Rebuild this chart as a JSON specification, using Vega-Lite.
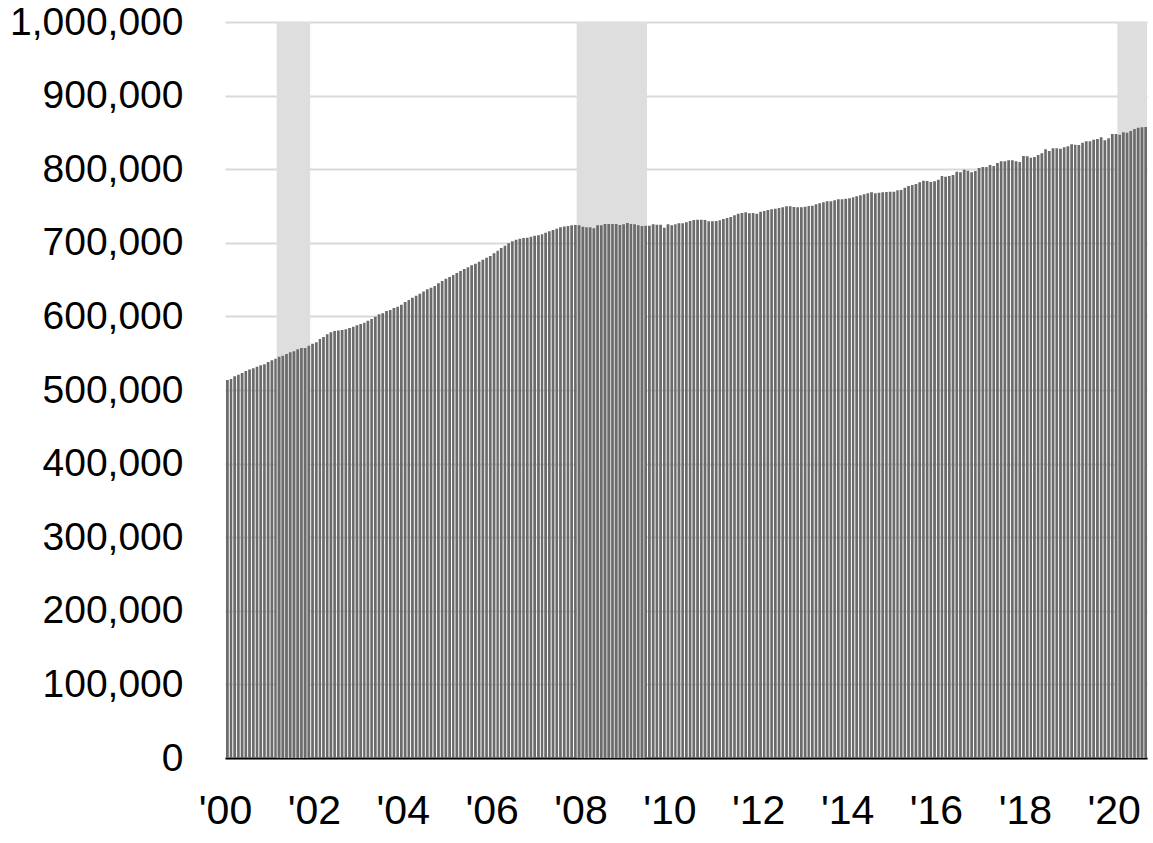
{
"$schema": "https://vega.github.io/schema/vega-lite/v6.json",
"width": 922, "height": 736,
"autosize": {"type": "none"},
"padding": {"left": 225, "top": 22, "right": 6, "bottom": 85},
"background": "white",
"config": {"view": {"stroke": null}, "font": "Liberation Sans, Arial, sans-serif"},
"datasets": {
"rec": [{"start":"2001-03","end":"2001-12"},{"start":"2007-12","end":"2009-07"},{"start":"2020-02","end":"2020-10"}],
"s": [
{"d":"2000-01","v":513600},{"d":"2000-02","v":515000},{"d":"2000-03","v":518600},{"d":"2000-04","v":520800},{"d":"2000-05","v":523000},{"d":"2000-06","v":525800},{"d":"2000-07","v":528000},{"d":"2000-08","v":529400},{"d":"2000-09","v":531700},{"d":"2000-10","v":533500},{"d":"2000-11","v":534900},{"d":"2000-12","v":538000},
{"d":"2001-01","v":540300},{"d":"2001-02","v":542500},{"d":"2001-03","v":545200},{"d":"2001-04","v":546600},{"d":"2001-05","v":548900},{"d":"2001-06","v":551200},{"d":"2001-07","v":552600},{"d":"2001-08","v":555300},{"d":"2001-09","v":557000},{"d":"2001-10","v":557000},{"d":"2001-11","v":560200},{"d":"2001-12","v":562900},
{"d":"2002-01","v":564800},{"d":"2002-02","v":569300},{"d":"2002-03","v":572000},{"d":"2002-04","v":575600},{"d":"2002-05","v":578400},{"d":"2002-06","v":580100},{"d":"2002-07","v":581000},{"d":"2002-08","v":581500},{"d":"2002-09","v":582400},{"d":"2002-10","v":584200},{"d":"2002-11","v":586000},{"d":"2002-12","v":587900},
{"d":"2003-01","v":589700},{"d":"2003-02","v":591400},{"d":"2003-03","v":594200},{"d":"2003-04","v":596500},{"d":"2003-05","v":599600},{"d":"2003-06","v":602800},{"d":"2003-07","v":604200},{"d":"2003-08","v":607300},{"d":"2003-09","v":608700},{"d":"2003-10","v":611400},{"d":"2003-11","v":613200},{"d":"2003-12","v":615900},
{"d":"2004-01","v":619600},{"d":"2004-02","v":622300},{"d":"2004-03","v":625400},{"d":"2004-04","v":628100},{"d":"2004-05","v":630800},{"d":"2004-06","v":634000},{"d":"2004-07","v":636800},{"d":"2004-08","v":639000},{"d":"2004-09","v":641300},{"d":"2004-10","v":644900},{"d":"2004-11","v":648100},{"d":"2004-12","v":651200},
{"d":"2005-01","v":653500},{"d":"2005-02","v":656200},{"d":"2005-03","v":659000},{"d":"2005-04","v":661700},{"d":"2005-05","v":664400},{"d":"2005-06","v":666700},{"d":"2005-07","v":669400},{"d":"2005-08","v":671600},{"d":"2005-09","v":674300},{"d":"2005-10","v":677000},{"d":"2005-11","v":679800},{"d":"2005-12","v":682000},
{"d":"2006-01","v":685700},{"d":"2006-02","v":689300},{"d":"2006-03","v":692900},{"d":"2006-04","v":696100},{"d":"2006-05","v":699300},{"d":"2006-06","v":702000},{"d":"2006-07","v":704200},{"d":"2006-08","v":705600},{"d":"2006-09","v":706500},{"d":"2006-10","v":706900},{"d":"2006-11","v":708300},{"d":"2006-12","v":709700},
{"d":"2007-01","v":710100},{"d":"2007-02","v":711500},{"d":"2007-03","v":713700},{"d":"2007-04","v":715600},{"d":"2007-05","v":717400},{"d":"2007-06","v":719200},{"d":"2007-07","v":721000},{"d":"2007-08","v":722300},{"d":"2007-09","v":722800},{"d":"2007-10","v":723700},{"d":"2007-11","v":724200},{"d":"2007-12","v":723700},
{"d":"2008-01","v":721900},{"d":"2008-02","v":721000},{"d":"2008-03","v":721000},{"d":"2008-04","v":719700},{"d":"2008-05","v":723700},{"d":"2008-06","v":723700},{"d":"2008-07","v":725500},{"d":"2008-08","v":725500},{"d":"2008-09","v":725500},{"d":"2008-10","v":725500},{"d":"2008-11","v":724200},{"d":"2008-12","v":725100},
{"d":"2009-01","v":726900},{"d":"2009-02","v":725500},{"d":"2009-03","v":725100},{"d":"2009-04","v":723700},{"d":"2009-05","v":722800},{"d":"2009-06","v":723300},{"d":"2009-07","v":723300},{"d":"2009-08","v":725100},{"d":"2009-09","v":724600},{"d":"2009-10","v":724600},{"d":"2009-11","v":720600},{"d":"2009-12","v":725100},
{"d":"2010-01","v":723700},{"d":"2010-02","v":725100},{"d":"2010-03","v":726400},{"d":"2010-04","v":726400},{"d":"2010-05","v":727800},{"d":"2010-06","v":729600},{"d":"2010-07","v":731000},{"d":"2010-08","v":731400},{"d":"2010-09","v":731400},{"d":"2010-10","v":731000},{"d":"2010-11","v":729200},{"d":"2010-12","v":729200},
{"d":"2011-01","v":729600},{"d":"2011-02","v":730500},{"d":"2011-03","v":732300},{"d":"2011-04","v":733700},{"d":"2011-05","v":735100},{"d":"2011-06","v":737300},{"d":"2011-07","v":739600},{"d":"2011-08","v":740500},{"d":"2011-09","v":741400},{"d":"2011-10","v":740000},{"d":"2011-11","v":740500},{"d":"2011-12","v":739600},
{"d":"2012-01","v":742300},{"d":"2012-02","v":743200},{"d":"2012-03","v":744600},{"d":"2012-04","v":745500},{"d":"2012-05","v":746400},{"d":"2012-06","v":747300},{"d":"2012-07","v":748200},{"d":"2012-08","v":749500},{"d":"2012-09","v":749500},{"d":"2012-10","v":748600},{"d":"2012-11","v":748200},{"d":"2012-12","v":748200},
{"d":"2013-01","v":749100},{"d":"2013-02","v":750000},{"d":"2013-03","v":750400},{"d":"2013-04","v":752300},{"d":"2013-05","v":753600},{"d":"2013-06","v":755000},{"d":"2013-07","v":756300},{"d":"2013-08","v":756300},{"d":"2013-09","v":757700},{"d":"2013-10","v":759100},{"d":"2013-11","v":759100},{"d":"2013-12","v":760000},
{"d":"2014-01","v":760400},{"d":"2014-02","v":761800},{"d":"2014-03","v":763100},{"d":"2014-04","v":764500},{"d":"2014-05","v":765800},{"d":"2014-06","v":767200},{"d":"2014-07","v":768600},{"d":"2014-08","v":767200},{"d":"2014-09","v":768100},{"d":"2014-10","v":768600},{"d":"2014-11","v":769000},{"d":"2014-12","v":769500},
{"d":"2015-01","v":769500},{"d":"2015-02","v":771300},{"d":"2015-03","v":771700},{"d":"2015-04","v":774900},{"d":"2015-05","v":777200},{"d":"2015-06","v":778500},{"d":"2015-07","v":779900},{"d":"2015-08","v":782100},{"d":"2015-09","v":784400},{"d":"2015-10","v":784000},{"d":"2015-11","v":782600},{"d":"2015-12","v":783500},
{"d":"2016-01","v":785800},{"d":"2016-02","v":790800},{"d":"2016-03","v":789900},{"d":"2016-04","v":790800},{"d":"2016-05","v":792100},{"d":"2016-06","v":796600},{"d":"2016-07","v":795700},{"d":"2016-08","v":799300},{"d":"2016-09","v":798000},{"d":"2016-10","v":795700},{"d":"2016-11","v":797500},{"d":"2016-12","v":801600},
{"d":"2017-01","v":803000},{"d":"2017-02","v":803000},{"d":"2017-03","v":805700},{"d":"2017-04","v":804300},{"d":"2017-05","v":808400},{"d":"2017-06","v":810700},{"d":"2017-07","v":810700},{"d":"2017-08","v":812000},{"d":"2017-09","v":812000},{"d":"2017-10","v":810700},{"d":"2017-11","v":809800},{"d":"2017-12","v":817900},
{"d":"2018-01","v":817500},{"d":"2018-02","v":815700},{"d":"2018-03","v":816600},{"d":"2018-04","v":819300},{"d":"2018-05","v":821600},{"d":"2018-06","v":827000},{"d":"2018-07","v":824700},{"d":"2018-08","v":828400},{"d":"2018-09","v":828400},{"d":"2018-10","v":827900},{"d":"2018-11","v":829700},{"d":"2018-12","v":831100},
{"d":"2019-01","v":833800},{"d":"2019-02","v":833300},{"d":"2019-03","v":832900},{"d":"2019-04","v":836000},{"d":"2019-05","v":837900},{"d":"2019-06","v":837900},{"d":"2019-07","v":840100},{"d":"2019-08","v":841000},{"d":"2019-09","v":843300},{"d":"2019-10","v":839200},{"d":"2019-11","v":841900},{"d":"2019-12","v":847800},
{"d":"2020-01","v":847800},{"d":"2020-02","v":846900},{"d":"2020-03","v":850100},{"d":"2020-04","v":849600},{"d":"2020-05","v":851900},{"d":"2020-06","v":854600},{"d":"2020-07","v":856400},{"d":"2020-08","v":856900},{"d":"2020-09","v":857300}
]},
"layer": [
{"data": {"name": "rec"}, "mark": {"type": "rect", "color": "#dedede"},
 "encoding": {"x": {"field": "start", "type": "temporal"}, "x2": {"field": "end"}}},
{"data": {"name": "s"}, "mark": {"type": "bar", "color": "#6b6b6b", "timeUnitBandSize": 0.66, "timeUnitBandPosition": 0},
 "encoding": {
  "x": {"field": "d", "type": "temporal", "timeUnit": "utcyearmonth",
        "scale": {"type": "utc", "domain": [{"year": 2000, "month": "jan", "date": 1, "utc": true}, {"year": 2020, "month": "oct", "date": 1, "utc": true}]},
        "axis": {"title": null, "format": "'%y", "tickCount": {"interval": "year", "step": 2}, "ticks": false, "grid": false, "domainColor": "black", "domainWidth": 2, "labelFontSize": 41, "labelColor": "black", "labelPadding": 33, "labelFlush": false, "labelOverlap": false}},
  "y": {"field": "v", "type": "quantitative",
        "scale": {"domain": [0, 1000000], "nice": false},
        "axis": {"title": null, "values": [0,100000,200000,300000,400000,500000,600000,700000,800000,900000,1000000], "format": ",d", "labelFontSize": 39, "labelLimit": 0, "labelColor": "black", "labelPadding": 42, "domain": false, "ticks": false, "gridColor": "#d9d9d9", "gridWidth": 2}}
 }}
]
}
